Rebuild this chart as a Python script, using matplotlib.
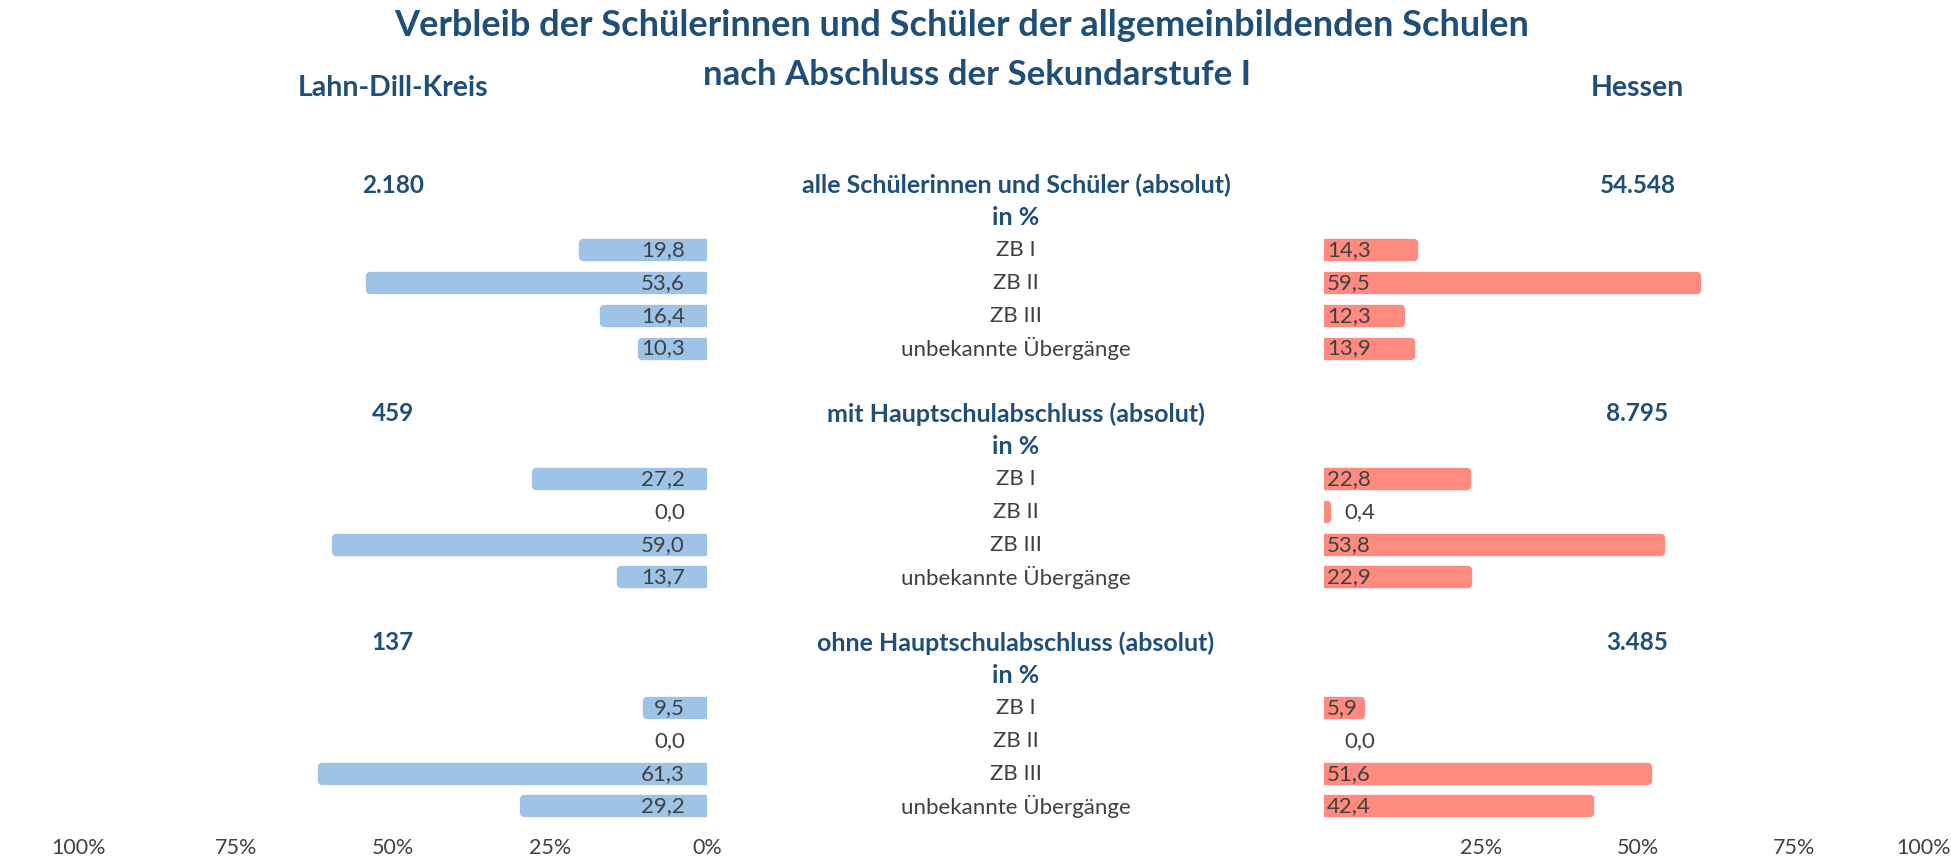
import matplotlib
matplotlib.use('Agg')
import matplotlib.pyplot as plt
from matplotlib.transforms import blended_transform_factory
import numpy as np

# data
categories = ["ZB I", "ZB II", "ZB III", "unbekannte Übergänge"]
groups = ["alle Schülerinnen und Schüler (absolut)",
          "mit Hauptschulabschluss (absolut)",
          "ohne Hauptschulabschluss (absolut)"]
lahn_abs = [2180, 459, 137]
hessen_abs = [54548, 8795, 3485]
lahn_alle = [19.8, 53.6, 16.4, 10.3]
lahn_mit = [27.2, 0.0, 59.0, 13.7]
lahn_ohne = [9.5, 0.0, 61.3, 29.2]
hessen_alle = [14.3, 59.5, 12.3, 13.9]
hessen_mit = [22.8, 0.4, 53.8, 22.9]
hessen_ohne = [5.9, 0.0, 51.6, 42.4]
ticks = [0, 25, 50, 75, 100]

lahn_pct = [lahn_alle, lahn_mit, lahn_ohne]
hessen_pct = [hessen_alle, hessen_mit, hessen_ohne]

plt.rcParams['font.family'] = ['Lato', 'DejaVu Sans']
dark = '#1F4E79'
grey = '#404040'
blue = '#9DC3E6'
red = '#FF8A80'

def de(v, dec=1):
	s = ("%." + str(dec) + "f") % v
	return s.replace('.', ',')

def de_int(v):
	return "{:,}".format(v).replace(',', '.')

fig = plt.figure(figsize=(19.51, 8.6), dpi=100)
bottom = 1 - 826 / 860.0
top = 1 - 165.4 / 860.0
axl = fig.add_axes([79 / 1951.0, bottom, 628 / 1951.0, top - bottom])
axr = fig.add_axes([1324 / 1951.0, bottom, 627 / 1951.0, top - bottom])

# slot positions: header, "in %", 4 rows, blank
slot = 7
for ax in (axl, axr):
	ax.set_ylim(19.6, -0.6)
	ax.set_xlim(0, 100)
	ax.set_xticks(ticks)
	ax.set_xticklabels([str(t) + "%" for t in ticks], color=grey, fontsize=15.5)
	ax.tick_params(axis='x', length=0, pad=9)
	ax.set_yticks([])
	for sp in ax.spines.values():
		sp.set_visible(False)
axl.invert_xaxis()
lbls = axr.get_xticklabels()
lbls[0].set_visible(False)
lbls[-1].set_horizontalalignment('right')

ctr = blended_transform_factory(fig.transFigure, axl.transData)
cx = 1016 / 1951.0
bw = 6.0

for g in range(len(groups)):
	y0 = g * slot
	rows = y0 + 2 + np.arange(len(categories))
	lw = [bw if v > 0 else 0 for v in lahn_pct[g]]
	axl.barh(rows, lahn_pct[g], height=0.43, color=blue, edgecolor=blue,
		linewidth=lw, joinstyle='round')
	lw = [bw if v > 0 else 0 for v in hessen_pct[g]]
	axr.barh(rows, hessen_pct[g], height=0.43, color=red, edgecolor=red,
		linewidth=lw, joinstyle='round')

	axl.text(50, y0, de_int(lahn_abs[g]), ha='center', va='center',
		color=dark, fontsize=17.5, fontweight='bold')
	axr.text(50, y0, de_int(hessen_abs[g]), ha='center', va='center',
		color=dark, fontsize=17.5, fontweight='bold')
	axl.text(cx, y0, groups[g], transform=ctr, ha='center', va='center',
		color=dark, fontsize=18, fontweight='bold')
	axl.text(cx, y0 + 1, "in %", transform=ctr, ha='center', va='center',
		color=dark, fontsize=18, fontweight='bold')

	for i in range(len(categories)):
		axl.text(cx, rows[i], categories[i], transform=ctr, ha='center',
			va='center', color=grey, fontsize=16)
		axl.text(3.5, rows[i], de(lahn_pct[g][i]), ha='right', va='center',
			color=grey, fontsize=16)
		v = hessen_pct[g][i]
		xr = 0.5 if v >= 3 else 3.3
		axr.text(xr, rows[i], de(v), ha='left', va='center',
			color=grey, fontsize=16)

fig.text(0.493, 1 - 25 / 860.0, "Verbleib der Schülerinnen und Schüler der allgemeinbildenden Schulen",
	ha='center', va='center', color=dark, fontsize=26, fontweight='bold')
fig.text(0.501, 1 - 75 / 860.0, "nach Abschluss der Sekundarstufe I",
	ha='center', va='center', color=dark, fontsize=25, fontweight='bold')

hl = blended_transform_factory(axl.transData, fig.transFigure)
hr = blended_transform_factory(axr.transData, fig.transFigure)
axl.text(50, 1 - 88 / 860.0, "Lahn-Dill-Kreis", transform=hl, ha='center',
	va='center', color=dark, fontsize=20.5, fontweight='bold')
axr.text(50, 1 - 88 / 860.0, "Hessen", transform=hr, ha='center',
	va='center', color=dark, fontsize=20.5, fontweight='bold')

plt.savefig('out.png', dpi=100)
